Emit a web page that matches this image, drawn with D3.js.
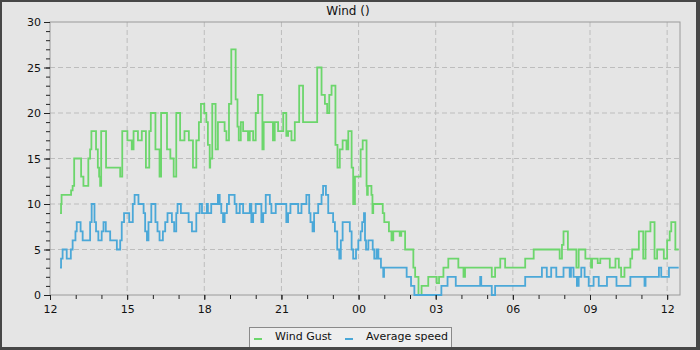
<!DOCTYPE html>
<html>
<head>
<meta charset="utf-8">
<script src="https://cdn.jsdelivr.net/npm/d3@7"></script>
<style>
  html, body { margin: 0; padding: 0; background: #e5e5e5; }
  svg { display: block; font-family: "DejaVu Sans", sans-serif; }
</style>
</head>
<body>
<div id="chart"></div>
<script>
// hours after 12:00 on day one, value holds until the next entry
const gustHours = [0.39,0.43,0.45,0.82,0.88,0.94,1.21,1.30,1.49,1.56,1.61,1.79,1.86,1.91,1.95,1.99,2.18,2.73,2.81,3.01,3.18,3.25,3.42,3.57,3.73,3.86,3.92,4.10,4.26,4.32,4.55,4.68,4.81,4.91,5.06,5.23,5.40,5.56,5.69,5.79,5.87,6.00,6.08,6.14,6.21,6.23,6.31,6.44,6.53,6.79,6.86,6.96,7.05,7.22,7.29,7.34,7.42,7.51,7.70,7.77,7.90,8.00,8.09,8.26,8.31,8.67,8.74,8.87,9.07,9.19,9.26,9.39,9.52,9.69,9.84,10.39,10.56,10.69,10.78,10.86,10.95,11.10,11.18,11.27,11.38,11.53,11.60,11.73,11.79,11.86,12.08,12.16,12.31,12.33,12.36,12.50,12.54,12.57,12.94,13.00,13.18,13.28,13.35,13.60,13.66,13.81,14.13,14.20,14.33,14.45,14.71,15.04,15.13,15.30,15.49,15.88,16.08,16.14,17.18,17.31,17.51,17.70,18.48,18.81,19.82,19.91,19.97,20.14,20.47,20.56,20.82,21.04,21.08,21.30,21.40,21.77,21.99,22.12,22.21,22.34,22.57,22.64,22.90,23.07,23.16,23.35,23.51,23.61,23.87,24.00,24.10,24.16,24.32,24.45];
const gustSpeed = [9,10,11,11.5,12,15,13,12,15,16,18,16,14,13,12,18,14,13,18,17,16,18,17,18,14,18,20,16,13,20,16,15,13,20,17,18,17,14,17,19,21,20,19,16.5,14,15,21,16,19,18,17,21,27,21.5,18.5,17,19,18,17,18,17,20,22,16,19,17,19,18,20,17.5,18,17,19,23,19,25,22,21,20,22,23,16.5,14,16,17,16,18,14,10,13,16,17,12,11,12,11,9,10,9,8,7,6,7,6.5,7,5,3,2,0,1,2,1.3,2,3,4,3,2,3,2,3,4,3,4,5,4,5.5,7,5,3,5,4,3,4,3.5,4,3,4,3,2,3,4,5,7,4,7,8,4,5,4,6,7,8,5,5];

const avgHours = [0.39,0.43,0.49,0.65,0.81,0.88,0.99,1.04,1.19,1.27,1.56,1.62,1.73,1.79,1.88,2.01,2.08,2.17,2.34,2.60,2.73,2.79,2.88,3.08,3.22,3.29,3.44,3.64,3.70,3.77,3.83,3.94,4.10,4.18,4.26,4.39,4.48,4.57,4.74,4.83,4.91,4.96,5.09,5.39,5.52,5.69,5.82,5.91,6.10,6.14,6.27,6.53,6.60,6.66,6.73,6.79,6.88,6.96,7.18,7.25,7.38,7.51,7.77,7.83,7.90,8.00,8.22,8.29,8.39,8.55,8.61,8.78,9.19,9.26,9.35,9.65,9.78,9.97,10.08,10.13,10.21,10.27,10.43,10.56,10.62,10.73,10.82,11.01,11.08,11.17,11.25,11.31,11.38,11.66,11.73,11.79,11.90,11.99,12.08,12.14,12.21,12.25,12.29,12.38,12.55,12.61,12.70,12.77,12.87,12.96,12.99,13.87,14.04,14.17,15.22,15.46,15.78,16.73,16.77,17.18,17.31,18.48,19.13,19.32,19.49,19.69,19.97,20.21,20.26,20.36,20.49,20.56,20.66,20.79,20.95,21.14,21.34,21.66,22.03,22.57,23.12,23.16,23.68,23.77,24.07,24.45];
const avgSpeed = [3,4,5,4,5,6,7,8,7,6,8,10,8,7,6,7,8,7,6,5,6,8,9,8,10,11,10,9,7,6,8,10,8,7,6,7,8,9,8,7,9,10,9,8,7,9,10,9,10,9,10,11,10,9,8,9,10,11,10,9,10,9,10,8,9,10,8,9,11,10,9,10,8,9,10,9,10,11,9,8,7,9,10,11,12,11,9,8,7,5,4,6,8,7,5,4,5,6,7,8,9,6,5,6,5,4,5,4,3,2,3,2,1,0,1,2,1,2,1,0,1,2,3,2,3,2,3,2,3,2,1,2,3,2,1,2,1,2,1,2,1,2,3,2,3,3];

const yTicks = [0, 5, 10, 15, 20, 25, 30];
const seriesNames = ['Wind Gust', 'Average speed'];
const seriesColors = ['#6cd66c', '#4ba8d8'];
const domainHours = 24.5;

const width = 700, height = 350;
const plot = { left: 50, right: 680, top: 22, bottom: 295 };
const start = new Date(2024, 0, 1, 12, 0, 0);
const toDate = h => new Date(start.getTime() + h * 3600e3);

const svg = d3.select('#chart').append('svg')
  .attr('width', width)
  .attr('height', height);

svg.append('rect')
  .attr('width', width).attr('height', height)
  .attr('fill', '#e5e5e5');

const x = d3.scaleTime()
  .domain([start, toDate(domainHours)])
  .range([plot.left, plot.right]);

const y = d3.scaleLinear()
  .domain([0, 30])
  .range([plot.bottom, plot.top]);

// grid
const majorHours = d3.timeHour.every(3).range(start, toDate(domainHours));
svg.append('g')
  .selectAll('line')
  .data(majorHours.filter(d => x(d) > plot.left + 1))
  .enter().append('line')
  .attr('x1', d => x(d)).attr('x2', d => x(d))
  .attr('y1', plot.top).attr('y2', plot.bottom)
  .attr('stroke', '#bdbdbd')
  .attr('stroke-dasharray', '5,3');

svg.append('g')
  .selectAll('line')
  .data(yTicks.filter(v => v > 0 && v < 30))
  .enter().append('line')
  .attr('x1', plot.left).attr('x2', plot.right)
  .attr('y1', d => y(d)).attr('y2', d => y(d))
  .attr('stroke', '#bdbdbd')
  .attr('stroke-dasharray', '5,3');

// frame
svg.append('rect')
  .attr('x', plot.left).attr('y', plot.top)
  .attr('width', plot.right - plot.left)
  .attr('height', plot.bottom - plot.top)
  .attr('fill', 'none')
  .attr('stroke', '#9a9a9a');

// step lines
const line = d3.line()
  .x(d => x(toDate(d[0])))
  .y(d => y(d[1]))
  .curve(d3.curveStepAfter);

const series = [
  d3.zip(gustHours, gustSpeed),
  d3.zip(avgHours, avgSpeed)
];

svg.append('g')
  .selectAll('path')
  .data(series)
  .enter().append('path')
  .attr('d', line)
  .attr('fill', 'none')
  .attr('stroke', (d, i) => seriesColors[i])
  .attr('stroke-width', 1.8);

// x axis
const xMinor = svg.append('g')
  .attr('transform', `translate(0,${plot.bottom})`)
  .call(d3.axisBottom(x).ticks(d3.timeHour.every(1)).tickFormat('').tickSize(4));
xMinor.select('.domain').remove();

const xAxis = svg.append('g')
  .attr('transform', `translate(0,${plot.bottom})`)
  .call(d3.axisBottom(x)
    .ticks(d3.timeHour.every(3))
    .tickFormat(d3.timeFormat('%H'))
    .tickSize(5)
    .tickPadding(5));
xAxis.select('.domain').remove();

// y axis
const yMinor = svg.append('g')
  .attr('transform', `translate(${plot.left},0)`)
  .call(d3.axisLeft(y).tickValues(d3.range(0, 31)).tickFormat('').tickSize(4));
yMinor.select('.domain').remove();

const yAxis = svg.append('g')
  .attr('transform', `translate(${plot.left},0)`)
  .call(d3.axisLeft(y).tickValues(yTicks).tickSize(6).tickPadding(3));
yAxis.select('.domain').remove();

svg.selectAll('.tick line').attr('stroke', '#222');
svg.selectAll('.tick text')
  .attr('fill', '#111')
  .style('font-size', '11px')
  .style('font-family', '"DejaVu Sans", sans-serif');

// title
svg.append('text')
  .attr('x', 348).attr('y', 15)
  .attr('text-anchor', 'middle')
  .style('font-size', '12px')
  .attr('fill', '#111')
  .text('Wind ()');

// legend
const legend = svg.append('g');
legend.append('rect')
  .attr('x', 249.5).attr('y', 327.5)
  .attr('width', 202).attr('height', 24)
  .attr('fill', '#eeeeee')
  .attr('stroke', '#8a8a8a');

const legendX = [254, 345];
seriesNames.forEach((name, i) => {
  legend.append('line')
    .attr('x1', legendX[i]).attr('x2', legendX[i] + 8)
    .attr('y1', 339).attr('y2', 339)
    .attr('stroke', seriesColors[i])
    .attr('stroke-width', 2);
  legend.append('text')
    .attr('x', legendX[i] + 21).attr('y', 340)
    .style('font-size', '11px')
    .attr('fill', '#111')
    .text(name);
});

// outer border
svg.append('path')
  .attr('d', `M0,0H${width}V${height}H0Z M2,2V347H696V2Z`)
  .attr('fill', '#474747')
  .attr('fill-rule', 'evenodd');
</script>
</body>
</html>
